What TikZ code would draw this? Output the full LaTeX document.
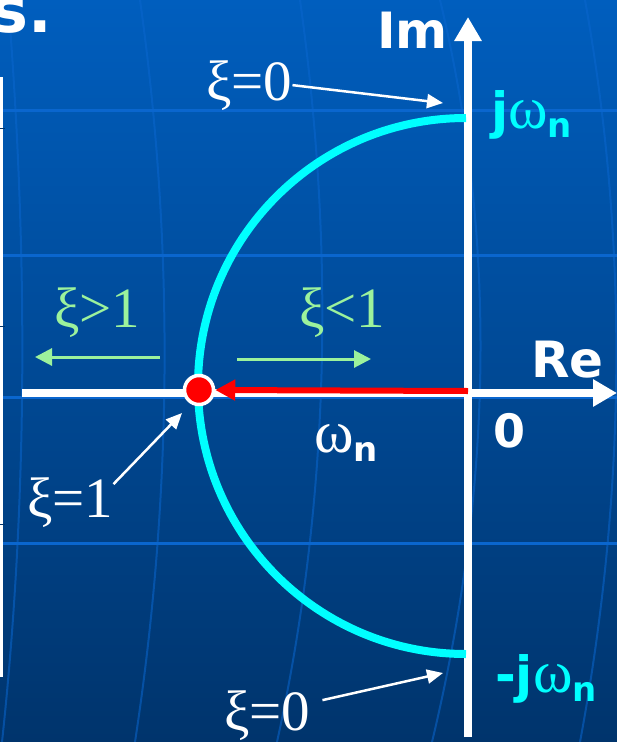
\documentclass[tikz,border=0pt]{standalone}
\usepackage{fontspec}
\setmainfont{Liberation Serif}
\newfontfamily\vsans{DejaVu Sans}
\usetikzlibrary{arrows.meta}
\definecolor{bgtop}{HTML}{005EBE}
\definecolor{bgbot}{HTML}{00346C}
\definecolor{gridblue}{HTML}{0A66CE}
\definecolor{locuscyan}{HTML}{00FFFF}
\definecolor{mint}{HTML}{9CF29C}
\definecolor{polered}{HTML}{FF0000}
\newcommand{\sz}[1]{\fontsize{#1}{#1}\selectfont}
\newcommand{\omn}{{\rmfamily\mdseries\sz{60}ω}\raisebox{-9pt}{\vsans\bfseries\sz{34}n}}
\tikzset{
  gridline/.style={gridblue, line width=3pt},
  faint/.style={gridblue, line width=2pt, opacity=0.55},
  axis/.style={white, line width=8pt, -{Triangle[length=24pt,width=26pt]}},
  locus/.style={locuscyan, line width=8pt},
  poleshift/.style={polered, line width=6pt, -{Triangle[length=20pt,width=20pt]}},
  sweep/.style={mint, line width=3pt, -{Triangle[length=17pt,width=17pt]}},
  note/.style={white, line width=2.5pt, -{Triangle[length=16pt,width=14pt]}},
  axlbl/.style={inner sep=0, anchor=base west, text=white, font=\vsans\bfseries\sz{50}},
  damp/.style={inner sep=0, anchor=base west, text=white, font=\sz{57}},
  dot/.style={circle, fill=polered, draw=white, line width=3.5pt, minimum size=29pt, inner sep=0}
}
\begin{document}
\begin{tikzpicture}[x=1pt, y=-1pt]
 \useasboundingbox (0,0) rectangle (617,742);
 \clip (0,0) rectangle (617,742);
 \shade[top color=bgtop, bottom color=bgbot] (0,0) rectangle (617,742);
 \foreach \gy in {110,255,397,543}
   \draw[gridline] (3,\gy) -- (617,\gy);
 \draw[faint] (8,0) .. controls (28,250) and (28,500) .. (2,742);
 \draw[faint] (140,0) .. controls (175,250) and (172,500) .. (135,742);
 \draw[faint] (300,0) .. controls (335,250) and (330,500) .. (277,742);
 \draw[faint] (440,0) .. controls (500,250) and (490,500) .. (432,742);
 \draw[faint] (585,0) .. controls (630,250) and (625,500) .. (580,742);
 \fill[white] (0,77) rectangle (3,677);
 \foreach \ty in {128,326,524}
   \draw[bgbot, line width=1pt] (0,\ty) -- (5,\ty);
 \node[inner sep=0, anchor=base east, text=white, font=\vsans\bfseries\sz{62}] (title) at (52,32) {s.};

 % s-plane axes
 \coordinate (O) at (468,392);
 \coordinate (imbot) at (468,737);
 \coordinate (imtop) at (468,17);
 \coordinate (releft) at (22,393);
 \coordinate (reright) at (617,393);
 \draw[axis] (imbot) -- (imtop);
 \draw[axis] (releft) -- (reright);
 \node[axlbl, anchor=base east] (im) at (448,48) {Im};
 \node[axlbl] (re) at (531,377) {Re};
 \node[axlbl, font=\vsans\bfseries\sz{46}] (zero) at (493,447) {0};

 % locus of the poles, radius omega_n
 \draw[locus] (466,118) arc[start angle=270, end angle=90, radius=268];
 \node[dot] (pole) at (199,390) {};
 \draw[poleshift] ([yshift=1pt]O) -- (pole.east);
 \node[axlbl, text=locuscyan] (jw) at (491,128) {j\omn};
 \node[axlbl, text=locuscyan] (mjw) at (495,692) {-j\omn};
 \node[axlbl] (wn) at (314,452) {\omn};

 % damping ratio labels
 \node[damp] (xizt) at (206,100) {ξ=0};
 \node[damp] (xizb) at (224,730) {ξ=0};
 \node[damp] (xione) at (27,517) {ξ=1};
 \node[damp, text=mint] (xigt) at (54,327) {ξ>1};
 \node[damp, text=mint] (xilt) at (299,327) {ξ<1};
 \coordinate (ztop) at (443,103);
 \coordinate (zbot) at (443,673);
 \coordinate (zone) at (182,413);
 \draw[note] (xizt.east) -- (ztop);
 \draw[note] ([xshift=12pt,yshift=15pt]xizb.east) -- (zbot);
 \draw[note] ([yshift=18pt]xione.east) -- (zone);
 \coordinate (gtA) at (160,357);
 \coordinate (gtB) at (35,357);
 \coordinate (ltA) at (237,359);
 \coordinate (ltB) at (371,359);
 \draw[sweep] (gtA) -- (gtB);
 \draw[sweep] (ltA) -- (ltB);
\end{tikzpicture}
\end{document}
